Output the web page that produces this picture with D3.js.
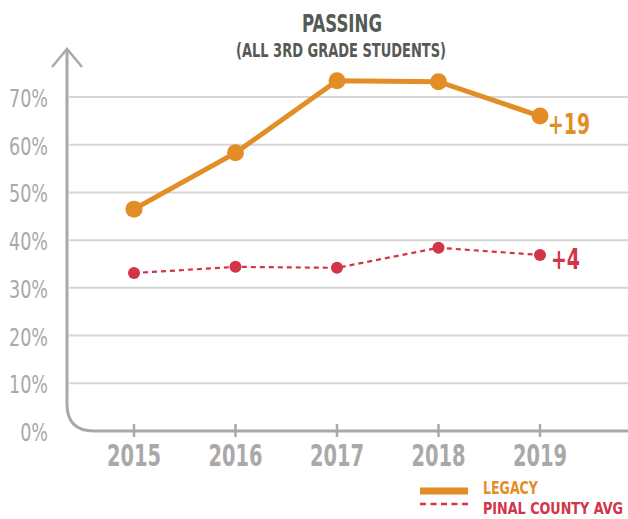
<!DOCTYPE html>
<html>
<head>
<meta charset="utf-8">
<script src="https://cdn.jsdelivr.net/npm/d3@7"></script>
<style>
  body { margin: 0; background: #fff; }
  text { font-family: "DejaVu Sans Condensed", "DejaVu Sans", sans-serif; }
</style>
</head>
<body>
<div id="chart"></div>
<script>
const years = [2015, 2016, 2017, 2018, 2019];
const legacy = [46.5, 58.3, 73.4, 73.2, 66.0];
const pinal = [33.1, 34.4, 34.2, 38.4, 36.9];
const yTicks = [0, 10, 20, 30, 40, 50, 60, 70];
const endLabels = ["+19", "+4"];
const legendNames = ["LEGACY", "PINAL COUNTY AVG"];

const orange = "#e38d26", red = "#d23448", gray = "#a9a9a9", dark = "#555a55";

const W = 628, H = 519;
const svg = d3.select("#chart").append("svg")
  .attr("width", W).attr("height", H);

const x = d3.scalePoint().domain(years).range([134, 540]);
const y = d3.scaleLinear().domain([0, 70]).range([431, 97]);

// squeeze text horizontally, the original uses a condensed face
function squeeze(sel, k) {
  sel.each(function() {
    const w = this.getComputedTextLength();
    d3.select(this).attr("textLength", w * k).attr("lengthAdjust", "spacingAndGlyphs");
  });
}

// gridlines
svg.append("g").selectAll("line")
  .data(yTicks.filter(d => d > 0))
  .join("line")
  .attr("x1", 69).attr("x2", W)
  .attr("y1", d => y(d)).attr("y2", d => y(d))
  .attr("stroke", "#d6d6d6").attr("stroke-width", 2);

// y tick labels
svg.append("g").selectAll("text")
  .data(yTicks)
  .join("text")
  .attr("x", 48).attr("y", d => y(d) + 10)
  .attr("text-anchor", "end")
  .attr("fill", gray)
  .style("font-size", "25px")
  .text(d => d + "%")
  .call(squeeze, 0.78);

// axis with rounded corner and arrow
const x0 = 67, yb = y(0), rad = 27;
svg.append("path")
  .attr("d", `M${x0},50 L${x0},${yb - rad} Q${x0},${yb} ${x0 + rad},${yb} L${W},${yb}`)
  .attr("fill", "none").attr("stroke", gray).attr("stroke-width", 3);
svg.append("path")
  .attr("d", `M${x0 - 15},${67} L${x0},${49} L${x0 + 15},${67}`)
  .attr("fill", "none").attr("stroke", gray).attr("stroke-width", 2.5);

// x ticks
svg.append("g").selectAll("line")
  .data(years)
  .join("line")
  .attr("x1", d => x(d)).attr("x2", d => x(d))
  .attr("y1", yb - 7).attr("y2", yb + 6)
  .attr("stroke", gray).attr("stroke-width", 2.5);

svg.append("g").selectAll("text")
  .data(years)
  .join("text")
  .attr("x", d => x(d)).attr("y", 466)
  .attr("text-anchor", "middle")
  .attr("fill", gray)
  .style("font-size", "30px").style("font-weight", "bold")
  .attr("textLength", 54).attr("lengthAdjust", "spacingAndGlyphs")
  .text(d => d);

// title
svg.append("text")
  .attr("x", 342).attr("y", 32)
  .attr("text-anchor", "middle").attr("fill", dark)
  .style("font-size", "25px").style("font-weight", "bold")
  .attr("textLength", 80).attr("lengthAdjust", "spacingAndGlyphs")
  .text("PASSING");
svg.append("text")
  .attr("x", 341).attr("y", 57)
  .attr("text-anchor", "middle").attr("fill", dark)
  .style("font-size", "19px").style("font-weight", "bold")
  .attr("textLength", 210).attr("lengthAdjust", "spacingAndGlyphs")
  .text("(ALL 3RD GRADE STUDENTS)");

// series
const line = d3.line().x((d, i) => x(years[i])).y(d => y(d));

svg.append("path")
  .datum(pinal)
  .attr("d", line)
  .attr("fill", "none").attr("stroke", red)
  .attr("stroke-width", 2.2).attr("stroke-dasharray", "5,4");
svg.append("g").selectAll("circle")
  .data(pinal).join("circle")
  .attr("cx", (d, i) => x(years[i])).attr("cy", d => y(d))
  .attr("r", 6).attr("fill", red);

svg.append("path")
  .datum(legacy)
  .attr("d", line)
  .attr("fill", "none").attr("stroke", orange)
  .attr("stroke-width", 5);
svg.append("g").selectAll("circle")
  .data(legacy).join("circle")
  .attr("cx", (d, i) => x(years[i])).attr("cy", d => y(d))
  .attr("r", 8.5).attr("fill", orange);

// end labels
const last = years.length - 1;
svg.append("text")
  .attr("x", x(years[last]) + 8).attr("y", y(legacy[last]) + 18)
  .attr("fill", orange)
  .style("font-size", "29px").style("font-weight", "bold")
  .attr("textLength", 42).attr("lengthAdjust", "spacingAndGlyphs")
  .text(endLabels[0]);
svg.append("text")
  .attr("x", x(years[last]) + 11).attr("y", y(pinal[last]) + 14)
  .attr("fill", red)
  .style("font-size", "29px").style("font-weight", "bold")
  .attr("textLength", 29).attr("lengthAdjust", "spacingAndGlyphs")
  .text(endLabels[1]);

// legend (scaled with a transform so the box stays inside the page)
const lg = svg.append("g");
lg.append("line")
  .attr("x1", 420).attr("x2", 468).attr("y1", 491).attr("y2", 491)
  .attr("stroke", orange).attr("stroke-width", 7);
lg.append("line")
  .attr("x1", 420).attr("x2", 468).attr("y1", 504).attr("y2", 504)
  .attr("stroke", red).attr("stroke-width", 2.5).attr("stroke-dasharray", "6,4.5");

const legendItems = [
  {name: legendNames[0], color: orange, y: 494, size: 17, width: 55},
  {name: legendNames[1], color: red, y: 514, size: 16, width: 140}
];
legendItems.forEach(it => {
  const g = lg.append("g");
  const t = g.append("text")
    .attr("fill", it.color)
    .style("font-size", it.size + "px").style("font-weight", "bold")
    .text(it.name);
  const k = it.width / t.node().getComputedTextLength();
  g.attr("transform", `translate(483,${it.y}) scale(${k},1)`);
});
</script>
</body>
</html>
